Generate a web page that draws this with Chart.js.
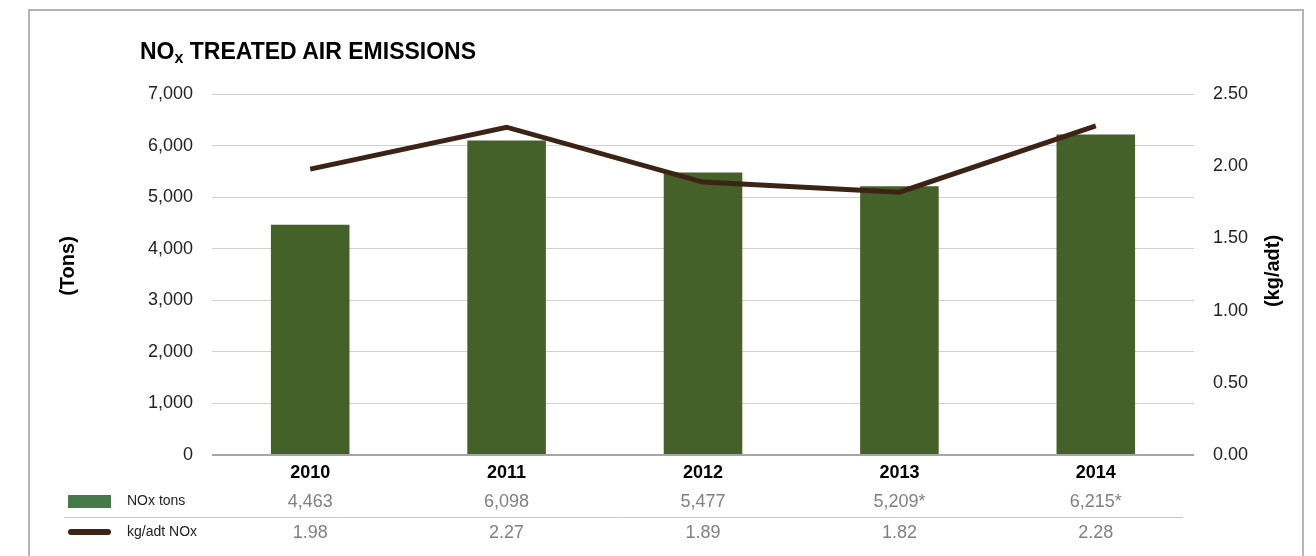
<!DOCTYPE html>
<html>
<head>
<meta charset="utf-8">
<script src="https://cdn.jsdelivr.net/npm/chart.js@4.4.0/dist/chart.umd.min.js"></script>
<style>
  html, body { margin: 0; padding: 0; background: #fff; }
  #wrap { position: relative; width: 1316px; height: 556px; overflow: hidden; }
  #frame { position: absolute; left: 28px; top: 9px; width: 1276px; height: 600px; border: 2px solid #b4b4b4; box-sizing: border-box; }
  #title { position: absolute; left: 140px; top: 40px; font: bold 23px "Liberation Sans", Arial, sans-serif; line-height: 22px; color: #000; white-space: nowrap; }
  #title sub { font-size: 16px; vertical-align: -4px; line-height: 0; }
  canvas { position: absolute; left: 0; top: 0; }
</style>
</head>
<body>
<div id="wrap">
  <div id="frame"></div>
  <canvas id="noxChart" width="1316" height="556"></canvas>
  <div id="title">NO<sub>x</sub> TREATED AIR EMISSIONS</div>
</div>
<script>
// --- data ---
const years = ["2010", "2011", "2012", "2013", "2014"];
const noxTons = [4463, 6098, 5477, 5209, 6215];
const tonsNotes = ["", "", "", "*", "*"];
const kgPerAdt = [1.98, 2.27, 1.89, 1.82, 2.28];
const tonsMax = 7000, tonsStep = 1000;
const rateMax = 2.5, rateStep = 0.5;

const FONT = '"Liberation Sans", Arial, sans-serif';
const barColor = "#436128";
const legendGreen = "#467a4a";
const lineColor = "#3b2415";

// table under the x axis + axis titles
const dataTable = {
  id: "dataTable",
  afterDraw(chart) {
    const ctx = chart.ctx;
    const xs = chart.scales.x;
    ctx.save();

    ctx.strokeStyle = "#c8c8c8";
    ctx.lineWidth = 1;
    ctx.beginPath();
    ctx.moveTo(64, 517.5);
    ctx.lineTo(1183, 517.5);
    ctx.stroke();

    ctx.fillStyle = legendGreen;
    ctx.fillRect(68, 495, 43, 13);
    ctx.strokeStyle = lineColor;
    ctx.lineWidth = 6;
    ctx.lineCap = "round";
    ctx.beginPath();
    ctx.moveTo(71, 532);
    ctx.lineTo(108, 532);
    ctx.stroke();

    ctx.textBaseline = "middle";
    ctx.textAlign = "left";
    ctx.fillStyle = "#222";
    ctx.font = "14px " + FONT;
    ctx.fillText("NOx tons", 127, 501);
    ctx.fillText("kg/adt NOx", 127, 532);

    ctx.fillStyle = "#808080";
    ctx.font = "18px " + FONT;
    ctx.textAlign = "center";
    years.forEach((y, i) => {
      const px = xs.getPixelForValue(i);
      ctx.fillText(noxTons[i].toLocaleString("en-US") + tonsNotes[i], px, 502);
      ctx.fillText(kgPerAdt[i].toFixed(2), px, 533);
    });

    // axis titles (both read bottom to top)
    ctx.fillStyle = "#000";
    ctx.font = "bold 20px " + FONT;
    [["(Tons)", 68, 266], ["(kg/adt)", 1273, 271]].forEach(([t, cx, cy]) => {
      ctx.save();
      ctx.translate(cx, cy);
      ctx.rotate(-Math.PI / 2);
      ctx.fillText(t, 0, 0);
      ctx.restore();
    });
    ctx.restore();
  },
};

const ctx = document.getElementById("noxChart").getContext("2d");
new Chart(ctx, {
  data: {
    labels: years,
    datasets: [
      {
        type: "line",
        label: "kg/adt NOx",
        data: kgPerAdt,
        yAxisID: "y1",
        borderColor: lineColor,
        borderWidth: 5,
        pointRadius: 0,
        tension: 0,
        order: 0,
      },
      {
        type: "bar",
        label: "NOx tons",
        data: noxTons,
        yAxisID: "y",
        backgroundColor: barColor,
        barPercentage: 0.4,
        categoryPercentage: 1,
        order: 1,
      },
    ],
  },
  options: {
    responsive: false,
    animation: false,
    layout: { padding: { top: 94, left: 0, right: 0, bottom: 0 } },
    plugins: { legend: { display: false }, tooltip: { enabled: false } },
    scales: {
      x: {
        grid: { display: false, drawTicks: false },
        border: { display: false },
        ticks: { color: "#000", font: { family: FONT, size: 18, weight: "bold" }, padding: 7 },
        afterFit: (s) => { s.height = 101; },
      },
      y: {
        position: "left",
        min: 0,
        max: tonsMax,
        border: { display: false },
        grid: {
          drawTicks: false,
          color: (c) => (c.tick.value === 0 ? "#a6a6a6" : "#d0d0d0"),
          lineWidth: (c) => (c.tick.value === 0 ? 2 : 1),
        },
        ticks: {
          stepSize: tonsStep,
          padding: 19,
          color: "#222",
          font: { family: FONT, size: 18 },
          callback: (v) => v.toLocaleString("en-US"),
        },
        afterFit: (s) => { s.width = 212; },
      },
      y1: {
        position: "right",
        min: 0,
        max: rateMax,
        border: { display: false },
        grid: { display: false, drawTicks: false },
        ticks: {
          stepSize: rateStep,
          padding: 19,
          color: "#222",
          font: { family: FONT, size: 18 },
          callback: (v) => v.toFixed(2),
        },
        afterFit: (s) => { s.width = 122; },
      },
    },
  },
  plugins: [dataTable],
});
</script>
</body>
</html>
